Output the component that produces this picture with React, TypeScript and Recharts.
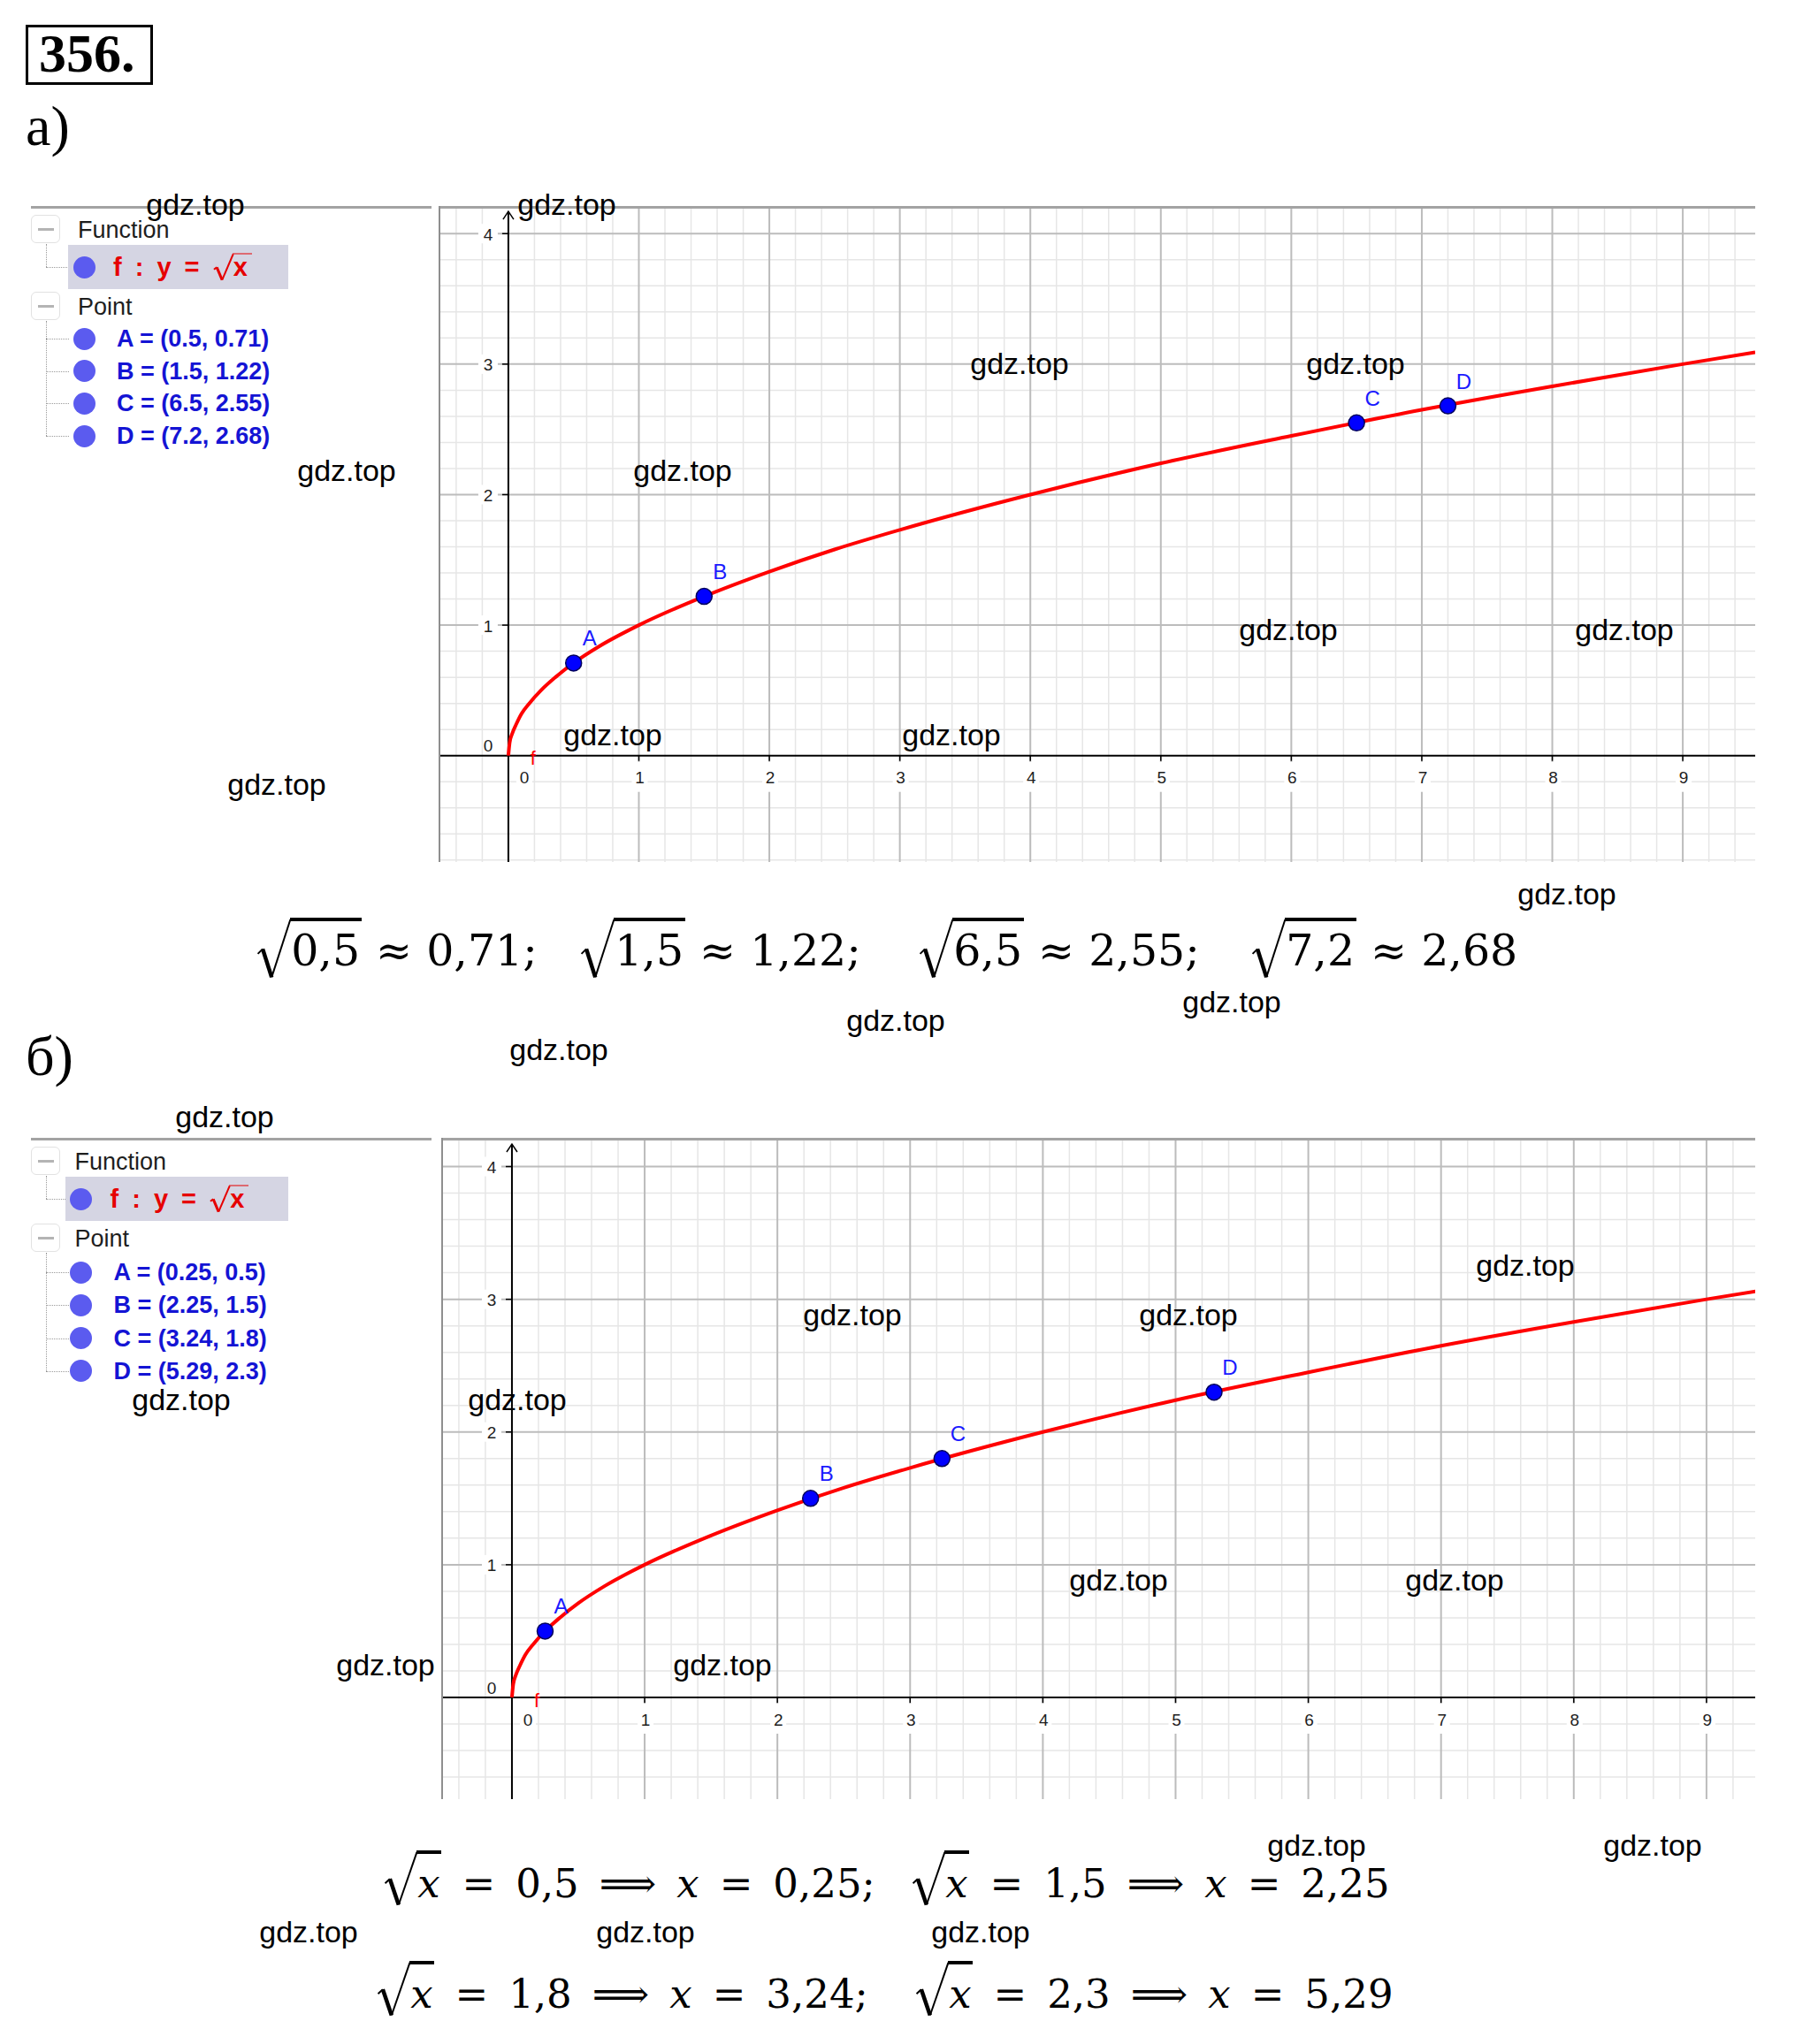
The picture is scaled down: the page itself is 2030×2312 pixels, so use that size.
import React from "react";
import { ComposedChart, Line, Scatter, XAxis, YAxis, ReferenceLine, ReferenceDot } from "recharts";

const SANS = '"Liberation Sans", Arial, sans-serif';
const SERIF = '"DejaVu Serif", serif';
const TITLE_SERIF = '"Liberation Serif", "Times New Roman", serif';

// а) curve y = sqrt(x)
const curveAX = [0, 0.01, 0.03, 0.06, 0.1, 0.16, 0.25, 0.36, 0.5, 0.7, 1, 1.5, 2, 2.5, 3, 4, 5, 6, 7, 8, 9, 9.555];
const curveAY = [0, 0.1, 0.17, 0.24, 0.32, 0.4, 0.5, 0.6, 0.71, 0.84, 1, 1.22, 1.41, 1.58, 1.73, 2, 2.24, 2.45, 2.65, 2.83, 3, 3.09];
const pointNames = ["A", "B", "C", "D"];
const pointsAX = [0.5, 1.5, 6.5, 7.2];
const pointsAY = [0.71, 1.22, 2.55, 2.68];

// б)
const curveBX = [0, 0.01, 0.03, 0.06, 0.1, 0.16, 0.25, 0.36, 0.5, 0.7, 1, 1.5, 2, 2.5, 3, 4, 5, 6, 7, 8, 9, 9.37];
const curveBY = [0, 0.1, 0.17, 0.24, 0.32, 0.4, 0.5, 0.6, 0.71, 0.84, 1, 1.22, 1.41, 1.58, 1.73, 2, 2.24, 2.45, 2.65, 2.83, 3, 3.06];
const pointsBX = [0.25, 2.25, 3.24, 5.29];
const pointsBY = [0.5, 1.5, 1.8, 2.3];

const xTickLabels = ["0", "1", "2", "3", "4", "5", "6", "7", "8", "9"];
const yTickLabels = ["0", "1", "2", "3", "4"];

const watermarks = [
  [221, 231], [641, 231], [1153, 411], [1533, 411], [392, 532], [772, 532], [1457, 712], [1837, 712],
  [693, 831], [1076, 831], [313, 887], [1772, 1011], [1013, 1154], [1393, 1133], [632, 1187],
  [254, 1263], [1725, 1431], [964, 1487], [1344, 1487], [205, 1583], [585, 1583], [1265, 1787], [1645, 1787],
  [436, 1883], [817, 1883], [1489, 2087], [1869, 2087], [349, 2185], [730, 2185], [1109, 2185],
];

function gridSteps(domain: number[], step: number) {
  const out: number[] = [];
  for (let k = Math.ceil(domain[0] / step); k * step <= domain[1] + 1e-9; k++) {
    const v = Math.round(k * step * 100) / 100;
    if (Math.abs(v - Math.round(v)) > 1e-6) out.push(v);
  }
  return out;
}

function integers(domain: number[]) {
  const out: number[] = [];
  for (let v = Math.ceil(domain[0]); v <= domain[1]; v++) out.push(v);
  return out;
}

const XTick = (p: any) => {
  const { cx, cy, payload } = p;
  const zero = payload.x === 0;
  const tx = zero ? cx + 18 : cx + 1;
  return (
    <g>
      {!zero && <line x1={cx} y1={cy} x2={cx} y2={cy + 6} stroke="#000" strokeWidth={1.5} />}
      <rect x={tx - 9} y={cy + 7} width={18} height={34} fill="#fff" />
      <text x={tx} y={cy + 25} textAnchor="middle" dominantBaseline="central" fontSize={19} fontFamily={SANS} fill="#1e1e1e">
        {payload.label}
      </text>
    </g>
  );
};

const YTick = (p: any) => {
  const { cx, cy, payload } = p;
  const zero = payload.y === 0;
  const ty = zero ? cy - 12 : cy;
  return (
    <g>
      {!zero && <line x1={cx - 7} y1={cy} x2={cx} y2={cy} stroke="#000" strokeWidth={1.5} />}
      {!zero && <rect x={cx - 34} y={ty - 11} width={22} height={22} fill="#fff" />}
      <text x={cx - 23} y={ty + 1} textAnchor="middle" dominantBaseline="central" fontSize={19} fontFamily={SANS} fill="#1e1e1e">
        {payload.label}
      </text>
    </g>
  );
};

const PointShape = (p: any) => (
  <g>
    <circle cx={p.cx} cy={p.cy} r={9} fill="#0000ff" stroke="#00005a" strokeWidth={1.5} />
    <text x={p.cx + 18} y={p.cy - 28} textAnchor="middle" dominantBaseline="central" fontSize={24} fontFamily={SANS} fill="#1a1aff">
      {p.payload.name}
    </text>
  </g>
);

const FLabel = (p: any) => (
  <text x={p.cx + 28} y={p.cy + 3} textAnchor="middle" dominantBaseline="central" fontSize={22} fontFamily={SANS} fill="#ff0000">
    f
  </text>
);

const Arrow = (p: any) => (
  <path d={`M${p.cx - 6},${p.cy + 9} L${p.cx},${p.cy} L${p.cx + 6},${p.cy + 9}`} stroke="#000" strokeWidth={1.5} fill="none" />
);

function SqrtGraph({ left, top, width, height, xDomain, yDomain, curveX, curveY, ptX, ptY }: any) {
  const curve = curveX.map((x: number, i: number) => ({ x, y: curveY[i] }));
  const points = ptX.map((x: number, i: number) => ({ x, y: ptY[i], name: pointNames[i] }));
  const xTicks = xTickLabels.map((l) => ({ x: Number(l), y: 0, label: l }));
  const yTicks = yTickLabels.map((l) => ({ x: 0, y: Number(l), label: l }));
  const minorX = gridSteps(xDomain, 0.2);
  const minorY = gridSteps(yDomain, 0.2);
  const majorX = integers(xDomain).filter((v) => v !== 0);
  const majorY = integers(yDomain).filter((v) => v !== 0);
  const arrowY = 4.17;
  return (
    <div style={{ position: "absolute", left, top, width, height }}>
      <ComposedChart width={width} height={height} margin={{ top: 0, right: 0, bottom: 0, left: 0 }}>
        <XAxis type="number" dataKey="x" domain={xDomain} hide allowDataOverflow />
        <YAxis type="number" dataKey="y" domain={yDomain} hide allowDataOverflow />
        {minorX.map((v) => (
          <ReferenceLine key={`mx${v}`} x={v} stroke="#e6e6e6" strokeWidth={1.5} zIndex={-100} />
        ))}
        {minorY.map((v) => (
          <ReferenceLine key={`my${v}`} y={v} stroke="#e6e6e6" strokeWidth={1.5} zIndex={-100} />
        ))}
        {majorX.map((v) => (
          <ReferenceLine key={`jx${v}`} x={v} stroke="#bcbcbc" strokeWidth={2} zIndex={-100} />
        ))}
        {majorY.map((v) => (
          <ReferenceLine key={`jy${v}`} y={v} stroke="#bcbcbc" strokeWidth={2} zIndex={-100} />
        ))}
        <ReferenceLine y={0} stroke="#000" strokeWidth={2} zIndex={-100} />
        <ReferenceLine segment={[{ x: 0, y: yDomain[0] }, { x: 0, y: arrowY }]} stroke="#000" strokeWidth={2} zIndex={-100} />
        <ReferenceDot x={0} y={arrowY} r={0} shape={Arrow} />
        <Line data={curve} dataKey="y" type="monotone" stroke="#ff0000" strokeWidth={4} dot={false} activeDot={false} isAnimationActive={false} />
        <Scatter data={xTicks} shape={XTick} isAnimationActive={false} />
        <Scatter data={yTicks} shape={YTick} isAnimationActive={false} />
        <Scatter data={[{ x: 0, y: 0 }]} shape={FLabel} isAnimationActive={false} />
        <Scatter data={points} shape={PointShape} isAnimationActive={false} />
      </ComposedChart>
    </div>
  );
}

function Txt({ left, cy, size, color = "#000", font = SANS, weight = 400, style = {}, children }: any) {
  return (
    <div
      style={{
        position: "absolute", left, top: cy, transform: "translateY(-50%)", fontSize: size, lineHeight: 1,
        fontFamily: font, fontWeight: weight, color, whiteSpace: "nowrap", ...style,
      }}
    >
      {children}
    </div>
  );
}

function Sqrt({ children, w = 0.8, top = -0.27, bottom = 1.12, bar = 0.08, thin = 2, thick = 4.5, color = "#000" }: any) {
  return (
    <span style={{ position: "relative", display: "inline-block", paddingLeft: `${w}em`, paddingRight: "0.04em" }}>
      <svg
        viewBox="0 0 100 100"
        preserveAspectRatio="none"
        style={{ position: "absolute", left: 0, top: `${top}em`, width: `${w}em`, height: `${bottom - top}em`, overflow: "visible" }}
      >
        <path d="M4 60 L18 52" stroke={color} strokeWidth={thin} vectorEffect="non-scaling-stroke" fill="none" />
        <path d="M18 52 L44 99" stroke={color} strokeWidth={thick} vectorEffect="non-scaling-stroke" fill="none" />
        <path d="M44 99 L98 3" stroke={color} strokeWidth={thin} vectorEffect="non-scaling-stroke" fill="none" />
      </svg>
      <span style={{ position: "absolute", left: `${w - 0.03}em`, right: 0, top: `${top}em`, height: `${bar}em`, background: color }} />
      {children}
    </span>
  );
}

function MinusBox({ x, cy }: any) {
  return (
    <div style={{ position: "absolute", left: x, top: cy - 16, width: 33, height: 32, border: "1px solid #e2e2e2", borderRadius: 6, boxSizing: "border-box", background: "#fff" }}>
      <div style={{ position: "absolute", left: 7, top: 13.5, width: 18, height: 3, background: "#b4b4b4" }} />
    </div>
  );
}

function AlgebraPanel({ top, dx, ptX, ptY, rowStart, rowStep }: any) {
  const rows = ptX.map((x: number, i: number) => `${pointNames[i]} = (${x}, ${ptY[i]})`);
  const rowY = rows.map((_: string, i: number) => top + rowStart + i * rowStep);
  const dot = (cx: number, cy: number, key?: string) => (
    <div key={key} style={{ position: "absolute", left: cx - 12.5, top: cy - 12.5, width: 25, height: 25, borderRadius: "50%", background: "#5b5bef" }} />
  );
  return (
    <>
      <div style={{ position: "absolute", left: 35, top: top - 1, width: 453, height: 2.5, background: "#a3a3a3" }} />
      <MinusBox x={35} cy={top + 25} />
      <Txt left={88 + dx} cy={top + 26} size={27} color="#1e1e1e">Function</Txt>
      <div style={{ position: "absolute", left: 52, top: top + 42, height: 26, borderLeft: "1.5px dotted #9a9a9a" }} />
      <div style={{ position: "absolute", left: 52, top: top + 68, width: 26, borderTop: "1.5px dotted #9a9a9a" }} />
      <div style={{ position: "absolute", left: 77 + dx, top: top + 43, width: 249 - dx, height: 50, background: "#d5d5e3" }} />
      {dot(95 + dx, top + 68)}
      <Txt left={128 + dx} cy={top + 68} size={29} color="#e60000" weight={700} style={{ letterSpacing: 3.5 }}>
        f : y = <Sqrt w={0.8} top={-0.05} bottom={1.0} bar={0.06} thin={2} thick={3} color="#e60000">x</Sqrt>
      </Txt>
      <MinusBox x={35} cy={top + 112} />
      <Txt left={88 + dx} cy={top + 113} size={27} color="#1e1e1e">Point</Txt>
      <div style={{ position: "absolute", left: 52, top: top + 129, height: rowY[3] - top - 129, borderLeft: "1.5px dotted #9a9a9a" }} />
      {rows.map((r: string, i: number) => (
        <React.Fragment key={r}>
          <div style={{ position: "absolute", left: 52, top: rowY[i], width: 26, borderTop: "1.5px dotted #9a9a9a" }} />
          {dot(95 + dx, rowY[i])}
          <Txt left={132 + dx} cy={rowY[i]} size={27} color="#1414d4" weight={700}>{r}</Txt>
        </React.Fragment>
      ))}
    </>
  );
}

function Formula({ left, top, size, gap, children }: any) {
  return (
    <div style={{ position: "absolute", left, top, display: "flex", alignItems: "baseline", gap, fontFamily: SERIF, fontSize: size, lineHeight: 1, whiteSpace: "nowrap", color: "#000" }}>
      {children}
    </div>
  );
}

const ix = <i style={{ fontStyle: "italic" }}>x</i>;

export default function App() {
  return (
    <div style={{ position: "absolute", left: 0, top: 0, width: 2030, height: 2312, background: "#fff", overflow: "hidden", fontFamily: SANS }}>
      {/* number box */}
      <div style={{ position: "absolute", left: 29, top: 28, width: 144, height: 68, border: "3.5px solid #000", boxSizing: "border-box" }} />
      <div style={{ position: "absolute", left: 44, top: 29, fontFamily: TITLE_SERIF, fontWeight: 700, fontSize: 62, lineHeight: 1 }}>356.</div>
      <div style={{ position: "absolute", left: 29, top: 111, fontFamily: TITLE_SERIF, fontSize: 64, lineHeight: 1 }}>а)</div>

      <AlgebraPanel top={234} dx={0} ptX={pointsAX} ptY={pointsAY} rowStart={149} rowStep={36.7} />
      <SqrtGraph left={497} top={234} width={1488} height={741} xDomain={[-0.528, 9.555]} yDomain={[-0.815, 4.205]}
        curveX={curveAX} curveY={curveAY} ptX={pointsAX} ptY={pointsAY} />
      <div style={{ position: "absolute", left: 497, top: 233, width: 1488, height: 2.5, background: "#a3a3a3" }} />
      <div style={{ position: "absolute", left: 495.5, top: 233, width: 2.5, height: 742, background: "#8f8f8f" }} />

      <Formula left={290} top={1051} size={49} gap={16}>
        <Sqrt>0,5</Sqrt><span>≈</span><span>0,71;</span>
      </Formula>
      <Formula left={656} top={1051} size={49} gap={16}>
        <Sqrt>1,5</Sqrt><span>≈</span><span>1,22;</span>
      </Formula>
      <Formula left={1039} top={1051} size={49} gap={16}>
        <Sqrt>6,5</Sqrt><span>≈</span><span>2,55;</span>
      </Formula>
      <Formula left={1415} top={1051} size={49} gap={16}>
        <Sqrt>7,2</Sqrt><span>≈</span><span>2,68</span>
      </Formula>

      <div style={{ position: "absolute", left: 29, top: 1163, fontFamily: TITLE_SERIF, fontSize: 64, lineHeight: 1 }}>б)</div>

      <AlgebraPanel top={1288} dx={-3.5} ptX={pointsBX} ptY={pointsBY} rowStart={151} rowStep={37.3} />
      <SqrtGraph left={500} top={1288} width={1485} height={747} xDomain={[-0.526, 9.367]} yDomain={[-0.766, 4.21]}
        curveX={curveBX} curveY={curveBY} ptX={pointsBX} ptY={pointsBY} />
      <div style={{ position: "absolute", left: 500, top: 1287, width: 1485, height: 2.5, background: "#a3a3a3" }} />
      <div style={{ position: "absolute", left: 498.5, top: 1287, width: 2.5, height: 748, background: "#8f8f8f" }} />

      <Formula left={434} top={2108} size={45} gap={23}>
        <Sqrt w={0.85} top={-0.33} bottom={1.05}>{ix}</Sqrt><span>=</span><span>0,5</span><span>⟹</span>{ix}<span>=</span><span>0,25;</span>
      </Formula>
      <Formula left={1031} top={2108} size={45} gap={23}>
        <Sqrt w={0.85} top={-0.33} bottom={1.05}>{ix}</Sqrt><span>=</span><span>1,5</span><span>⟹</span>{ix}<span>=</span><span>2,25</span>
      </Formula>
      <Formula left={426} top={2233} size={45} gap={23}>
        <Sqrt w={0.85} top={-0.33} bottom={1.05}>{ix}</Sqrt><span>=</span><span>1,8</span><span>⟹</span>{ix}<span>=</span><span>3,24;</span>
      </Formula>
      <Formula left={1035} top={2233} size={45} gap={23}>
        <Sqrt w={0.85} top={-0.33} bottom={1.05}>{ix}</Sqrt><span>=</span><span>2,3</span><span>⟹</span>{ix}<span>=</span><span>5,29</span>
      </Formula>

      {watermarks.map(([x, y], i) => (
        <div key={i} style={{ position: "absolute", left: x, top: y, transform: "translate(-50%, -50%)", fontFamily: SANS, fontSize: 34, lineHeight: 1, color: "#000", whiteSpace: "nowrap" }}>
          gdz.top
        </div>
      ))}
    </div>
  );
}
